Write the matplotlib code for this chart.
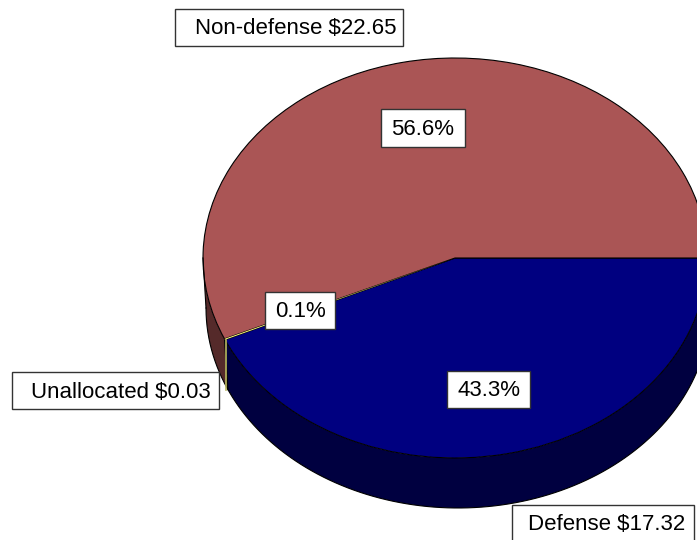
import numpy as np
from matplotlib import pyplot as plt
from matplotlib.patches import Rectangle

#  -------------------------------------------  data  ------------------------------------------  #

categories = ["Defense", "Unallocated", "Non-defense"]
values = [17.32, 0.03, 22.65]
percents = ["43.3%", "0.1%", "56.6%"]
top_cols = ["#000080", "#FFFF80", "#AA5555"]
side_cols = ["#000040", "#B8B860", "#552A2A"]

#  -------------------------------------------  plot  ------------------------------------------  #

plt.rcParams.update({"font.family": "Liberation Sans", "font.size": 16})

W, H = 697, 540
cx, cy = 455, 258        # pie centre, pixels
rx, ry = 252, 200        # ellipse half axes, pixels
depth = 50
shift = 3                # bottom rim sits a little to the right
sc = rx / ry             # data units per pixel in y


def py(y):
    return (H - y) * sc


fig = plt.figure(figsize=(W / 100, H / 100), dpi=100)
ax = fig.add_axes([0, 0, 1, 1])

# side walls, front half only (angles clockwise from the right)
edges = np.cumsum([0] + values) / np.sum(values) * 360
for i in range(len(values)):
    a0, a1 = edges[i], min(edges[i + 1], 180)
    if a0 >= 180:
        continue
    t = np.radians(np.linspace(a0, a1, 200))
    x = cx + rx * np.cos(t)
    top = py(cy) - rx * np.sin(t)
    xb = x + shift
    bot = top - depth * sc
    if i == 1:
        ax.plot([x[0] + 1, x[0] + 1], [top[0], bot[0]], c=side_cols[i], lw=1.2, zorder=3)
        continue
    ax.fill(np.r_[x, xb[::-1]], np.r_[top, bot[::-1]], color=side_cols[i], lw=0)
    ax.plot(xb, bot, c="black", lw=0.8)
    ax.plot([x[-1], xb[-1]], [top[-1], bot[-1]], c="black", lw=0.8)
    if i == 2:
        ax.plot([x[0], xb[0]], [top[0], bot[0]], c="black", lw=0.8, zorder=2)

wedges, _ = ax.pie(values, colors=top_cols, startangle=0, counterclock=False, radius=rx,
                   center=(cx, py(cy)), frame=True,
                   wedgeprops=dict(edgecolor="black", linewidth=0.8))
# the sliver tapers to nothing at the centre, so no outline on it
wedges[1].set_edgecolor("none")
wedges[1].set_linewidth(0)
wedges[1].set_zorder(wedges[0].get_zorder() + 1)

ax.set_aspect("auto")
ax.set_xlim(0, W)
ax.set_ylim(0, H * sc)
ax.axis("off")


def box(x0, x1, y0, y1, txt, tx=None, dy=1.5):
    ax.add_patch(Rectangle((x0, py(y1)), x1 - x0, py(y0) - py(y1), fc="white",
                           ec="#333333", lw=1, zorder=5, clip_on=False))
    if tx is None:
        ax.text((x0 + x1) / 2, py((y0 + y1) / 2 + dy), txt, ha="center", va="center", zorder=6)
    else:
        ax.text(tx, py((y0 + y1) / 2 + dy), txt, ha="left", va="center", zorder=6)


box(447, 530, 371, 408, percents[0])
box(265, 335, 292, 329, percents[1])
box(381, 465, 109, 147, percents[2])

box(512, 694, 505, 545, "%s $%.2f" % (categories[0], values[0]), tx=528, dy=-0.5)
box(12, 219, 372, 409, "%s $%.2f" % (categories[1], values[1]), tx=31)
box(175, 403, 9, 46, "%s $%.2f" % (categories[2], values[2]), tx=195)

plt.savefig("out.png", dpi=100)
